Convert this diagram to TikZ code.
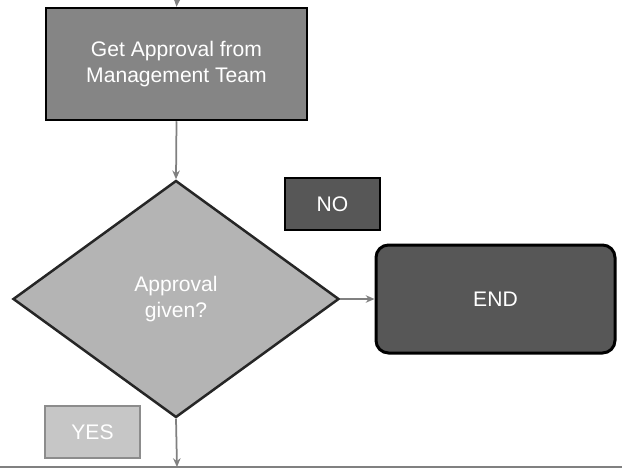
\documentclass[tikz,border=0pt]{standalone}
\usepackage{fontspec}
\setmainfont{Liberation Sans}
\usetikzlibrary{shapes.geometric,arrows.meta}

\definecolor{boxgray}{HTML}{858585}
\definecolor{diagray}{HTML}{B4B4B4}
\definecolor{darkgray}{HTML}{575757}
\definecolor{lightgray}{HTML}{C6C6C6}

\begin{document}
\begin{tikzpicture}[x=0.4mm, y=-0.4mm,
		every node/.style={text=white, font=\fontsize{24}{30}\selectfont, align=center, inner sep=0pt},
		taskbox/.style={rectangle, draw=black, line width=1mm, fill=boxgray},
		decide/.style={diamond, draw=black!85, line width=1mm, fill=diagray},
		tagbox/.style={rectangle, line width=.8mm, minimum width=38mm, minimum height=20.8mm},
		endbox/.style={rectangle, rounded corners=5mm, draw=black, line width=1.2mm, fill=darkgray},
		flow/.style={draw=gray, line width=.7mm, -{Stealth[length=3.5mm, width=3mm]}}]
	\useasboundingbox (0, 0) rectangle (622, 469);

		\coordinate (intop) at (177, 0);
		\node[taskbox, minimum width=104.4mm, minimum height=44.8mm] (approve) at (176.5, 64)
			{Get Approval from\\Management Team};

		\node[decide, minimum width=130.4mm, minimum height=94.8mm] (given) at (176, 299)
			{Approval\\given?};

		\node[tagbox, draw=black, fill=darkgray] (no) at (332.5, 204){NO};
		\node[endbox, minimum width=95.6mm, minimum height=43.2mm] (stop) at (495.5, 299){END};

		\node[tagbox, draw=black!45, fill=lightgray] (yes) at (92.5, 432){YES};
		\coordinate (outbot) at (177, 467);

		\draw[flow] (intop) to (approve.north);
		\draw[flow] (approve.south) to (given.north);
		\draw[flow] (given.east) to (stop.west);
		\draw[flow] (given.south) to (outbot);

		% edge of the next part of the page
		\draw[gray, line width=.5mm] (0, 467) to (622, 467);
	\end{tikzpicture}
\end{document}
